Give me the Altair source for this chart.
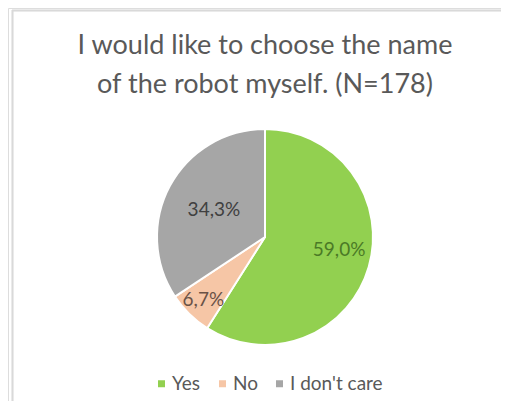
import altair as alt
import pandas as pd

categories = ["Yes", "No", "I don't care"]
values = [59.0, 6.7, 34.3]
colors = ["#92d050", "#f6c6a6", "#a6a6a6"]
label_colors = ["#4b7a26", "#6a5246", "#404040"]
title_lines = ["I would like to choose the name", "of the robot myself. (N=178)"]

df = pd.DataFrame({"cat": categories, "value": values, "order": list(range(len(categories)))})

W, H = 493, 393
CX, CY, R = 257, 229, 108
FONT = "Lato"

base = alt.Chart(df).transform_calculate(
    label="replace(format(datum.value, '.1f'), '.', ',') + '%'"
)

color_scale = alt.Scale(domain=categories, range=colors)

pie = base.mark_arc(stroke="white", strokeWidth=2, radius=R).encode(
    theta=alt.Theta("value:Q", stack=True),
    order=alt.Order("order:Q"),
    color=alt.Color(
        "cat:N",
        scale=color_scale,
        sort=categories,
        legend=alt.Legend(
            title=None,
            orient="none",
            legendX=144,
            legendY=366,
            direction="horizontal",
            symbolType="square",
            symbolSize=49,
            symbolStrokeWidth=0,
            labelFont=FONT,
            labelFontSize=19,
            labelColor="#595959",
            columnPadding=12,
            labelOffset=1,
        ),
    ),
    x=alt.value(CX),
    y=alt.value(CY),
)

def label_layer(cat, radius, color, dx=0, dy=0):
    return base.mark_text(font=FONT, fontSize=19, color=color, radius=radius, dx=dx, dy=dy).encode(
        theta=alt.Theta("value:Q", stack=True),
        order=alt.Order("order:Q"),
        text=alt.Text("label:N"),
        x=alt.value(CX),
        y=alt.value(CY),
        opacity=alt.condition(alt.datum.cat == cat, alt.value(1), alt.value(0)),
    )

labels = [
    label_layer(categories[0], 73, label_colors[0], dx=4, dy=-7),
    label_layer(categories[1], 88, label_colors[1]),
    label_layer(categories[2], 58, label_colors[2]),
]

title_df = pd.DataFrame({"line": title_lines, "i": [0, 1]})
title = alt.Chart(title_df).mark_text(
    font=FONT, fontSize=27, color="#595959", baseline="middle", align="center"
).encode(
    text="line:N",
    x=alt.value(CX),
    y=alt.Y("i:Q", axis=None, scale=alt.Scale(domain=[0, 1], range=[38, 77])),
)

border_top = alt.Chart(df).mark_rule(color="#d9d9d9", strokeWidth=1.5).encode(
    x=alt.value(4), x2=alt.value(W), y=alt.value(2.5)
)
border_left = alt.Chart(df).mark_rule(color="#d9d9d9", strokeWidth=1.5).encode(
    x=alt.value(4.5), y=alt.value(2), y2=alt.value(H)
)

chart = alt.layer(border_top, border_left, title, pie, *labels).properties(
    width=W, height=H, autosize=alt.AutoSizeParams(type="none"), padding=0
).configure_view(stroke=None).configure(background="white")

chart.save("out.html", embed_options={"renderer": "svg", "actions": False})
